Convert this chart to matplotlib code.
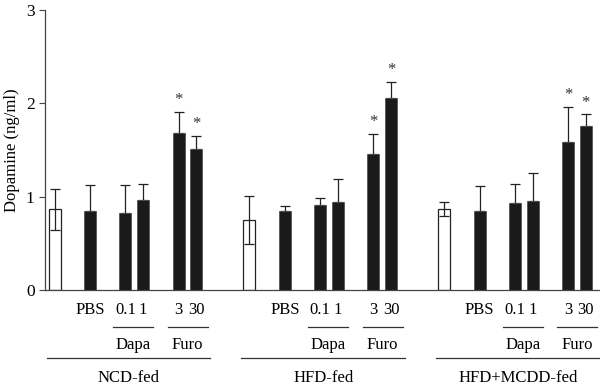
import numpy as np
import matplotlib.pyplot as plt
from matplotlib.transforms import blended_transform_factory

plt.rcParams['font.family'] = 'Liberation Serif'

groups = ["NCD-fed", "HFD-fed", "HFD+MCDD-fed"]
bar_labels = ["", "PBS", "0.1", "1", "3", "30"]
offsets = [0, 2, 4, 5, 7, 8]
group_step = 11

# mean values per group: control(white), PBS, Dapa 0.1, Dapa 1, Furo 3, Furo 30
means = [
    [0.865, 0.85, 0.83, 0.96, 1.68, 1.51],
    [0.75, 0.85, 0.91, 0.94, 1.46, 2.06],
    [0.865, 0.85, 0.93, 0.95, 1.58, 1.76],
]
errs = [
    [0.22, 0.27, 0.29, 0.18, 0.23, 0.14],
    [0.26, 0.05, 0.08, 0.25, 0.21, 0.17],
    [0.075, 0.26, 0.21, 0.30, 0.38, 0.12],
]
signif = [False, False, False, False, True, True]

fig = plt.figure(figsize=(6, 3.89), dpi=100)
ax = fig.add_axes([0.075, 0.2545, 0.925, 0.72])

for g in range(3):
    for i in range(6):
        x = g * group_step + offsets[i]
        m = means[g][i]
        e = errs[g][i]
        if i == 0:
            ax.bar(x, m, width=0.68, color="white", edgecolor="#222222", linewidth=0.9, zorder=2)
            ax.errorbar(x, m, yerr=e, fmt="none", ecolor="#222222", elinewidth=0.9, capsize=3.5, capthick=0.9, zorder=3)
        else:
            ax.bar(x, m, width=0.68, color="#1a1a1a", edgecolor="#555555", linewidth=0.6, zorder=2)
            ax.errorbar(x, m, yerr=[[0], [e]], fmt="none", ecolor="#222222", elinewidth=0.9, capsize=3.5, capthick=0.9, zorder=1)
        if signif[i]:
            ax.text(x, m + e + 0.04, "*", ha="center", va="bottom", fontsize=12, color="#333333")

ax.set_xlim(-0.54, 30.8)
ax.set_ylim(0, 3)
ax.set_yticks([0, 1, 2, 3])
ax.set_xticks([])
ax.set_ylabel("Dopamine (ng/ml)", fontsize=12, labelpad=4)
ax.tick_params(axis="y", labelsize=12.5, length=4, width=0.8, color="#444444")
for s in ["top", "right"]:
    ax.spines[s].set_visible(False)
for s in ["left", "bottom"]:
    ax.spines[s].set_color("#444444")
    ax.spines[s].set_linewidth(0.9)

tr = blended_transform_factory(ax.transData, ax.transAxes)
fs = 12
for g in range(3):
    base = g * group_step
    for i in range(1, 6):
        ax.text(base + offsets[i], -0.071, bar_labels[i], ha="center", va="center",
                fontsize=fs, transform=tr, clip_on=False)
    ax.plot([base + 3.3, base + 5.58], [-0.132, -0.132], color="#333333", lw=0.9,
            transform=tr, clip_on=False)
    ax.plot([base + 6.4, base + 8.65], [-0.132, -0.132], color="#333333", lw=0.9,
            transform=tr, clip_on=False)
    ax.text(base + 4.45, -0.196, "Dapa", ha="center", va="center", fontsize=fs,
            transform=tr, clip_on=False)
    ax.text(base + 7.5, -0.196, "Furo", ha="center", va="center", fontsize=fs,
            transform=tr, clip_on=False)
    ax.plot([base - 0.45, base + 8.8], [-0.243, -0.243], color="#333333", lw=0.9,
            transform=tr, clip_on=False)
    ax.text(base + 4.2, -0.314, groups[g], ha="center", va="center", fontsize=fs,
            transform=tr, clip_on=False)

fig.savefig("out.png", dpi=100)
